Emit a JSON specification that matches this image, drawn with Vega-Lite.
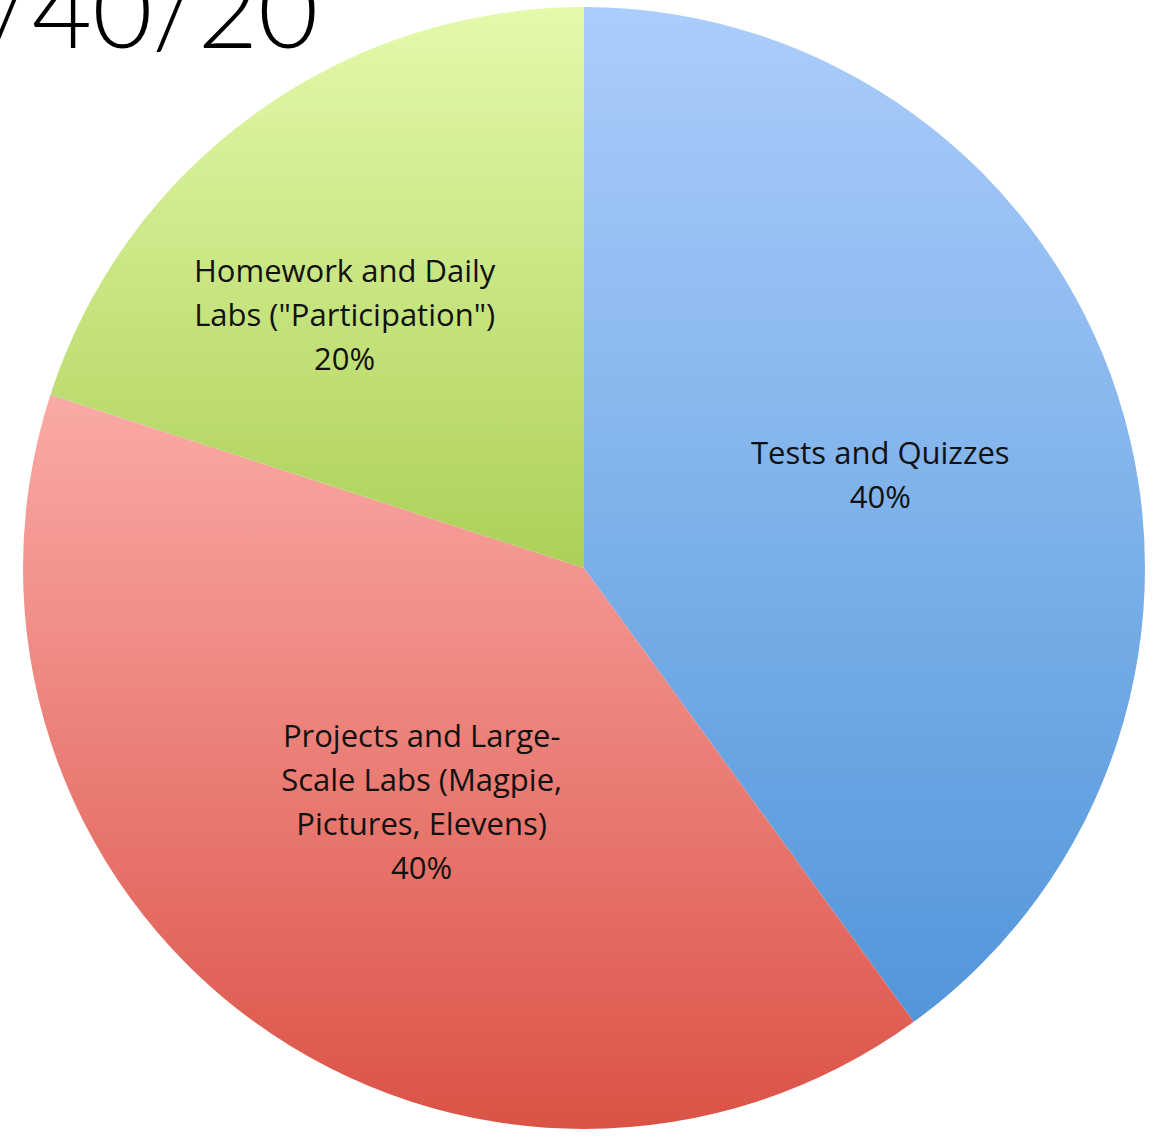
{
  "$schema": "https://vega.github.io/schema/vega-lite/v6.json",
  "width": 1140,
  "height": 1136,
  "autosize": {"type": "none"},
  "padding": {"left": 14, "top": 0, "right": 0, "bottom": 0},
  "background": "white",
  "title": {
    "text": "40/40/20",
    "anchor": "start",
    "frame": "group",
    "orient": "top",
    "offset": -152,
    "baseline": "alphabetic",
    "dx": -148,
    "font": "Lato",
    "fontWeight": 300,
    "fontSize": 104,
    "color": "#000000"
  },
  "data": {
    "values": [
      {"category": "Tests and Quizzes", "percent": 40, "label": "Tests and Quizzes\n40%"},
      {"category": "Projects and Large-Scale Labs", "percent": 40, "label": "Projects and Large-\nScale Labs (Magpie,\nPictures, Elevens)\n40%"},
      {"category": "Homework and Daily Labs", "percent": 20, "label": "Homework and Daily\nLabs (\"Participation\")\n20%"}
    ]
  },
  "encoding": {
    "theta": {"field": "percent", "type": "quantitative", "stack": true},
    "order": {"field": "category", "type": "nominal", "sort": "descending"}
  },
  "layer": [
    {
      "mark": {"type": "arc", "outerRadius": 561},
      "encoding": {
        "color": {
          "condition": [
            {"test": "datum.category === 'Tests and Quizzes'", "value": {"gradient": "linear", "x1": 0, "y1": 0, "x2": 0, "y2": 1, "stops": [{"offset": 0, "color": "#abcdfb"}, {"offset": 1, "color": "#5296da"}]}},
            {"test": "datum.category === 'Projects and Large-Scale Labs'", "value": {"gradient": "linear", "x1": 0, "y1": 0, "x2": 0, "y2": 1, "stops": [{"offset": 0, "color": "#faaaa6"}, {"offset": 1, "color": "#db5246"}]}}
          ],
          "value": {"gradient": "linear", "x1": 0, "y1": 0, "x2": 0, "y2": 1, "stops": [{"offset": 0, "color": "#e4faab"}, {"offset": 1, "color": "#acd058"}]}
        }
      }
    },
    {
      "mark": {"type": "text", "radius": 300, "dx": 11, "dy": -20, "font": "Open Sans", "fontSize": 31, "lineHeight": 44, "lineBreak": "\n", "color": "#111111", "align": "center", "baseline": "middle"},
      "encoding": {
        "text": {"condition": {"test": "datum.category === 'Tests and Quizzes'", "field": "label", "type": "nominal"}, "value": ""}
      }
    },
    {
      "mark": {"type": "text", "radius": 232, "dx": -26, "dy": -18, "font": "Open Sans", "fontSize": 31, "lineHeight": 44, "lineBreak": "\n", "color": "#111111", "align": "center", "baseline": "middle"},
      "encoding": {
        "text": {"condition": {"test": "datum.category === 'Projects and Large-Scale Labs'", "field": "label", "type": "nominal"}, "value": ""}
      }
    },
    {
      "mark": {"type": "text", "radius": 380, "dx": -16, "dy": 12, "font": "Open Sans", "fontSize": 31, "lineHeight": 44, "lineBreak": "\n", "color": "#111111", "align": "center", "baseline": "middle"},
      "encoding": {
        "text": {"condition": {"test": "datum.category === 'Homework and Daily Labs'", "field": "label", "type": "nominal"}, "value": ""}
      }
    }
  ]
}
